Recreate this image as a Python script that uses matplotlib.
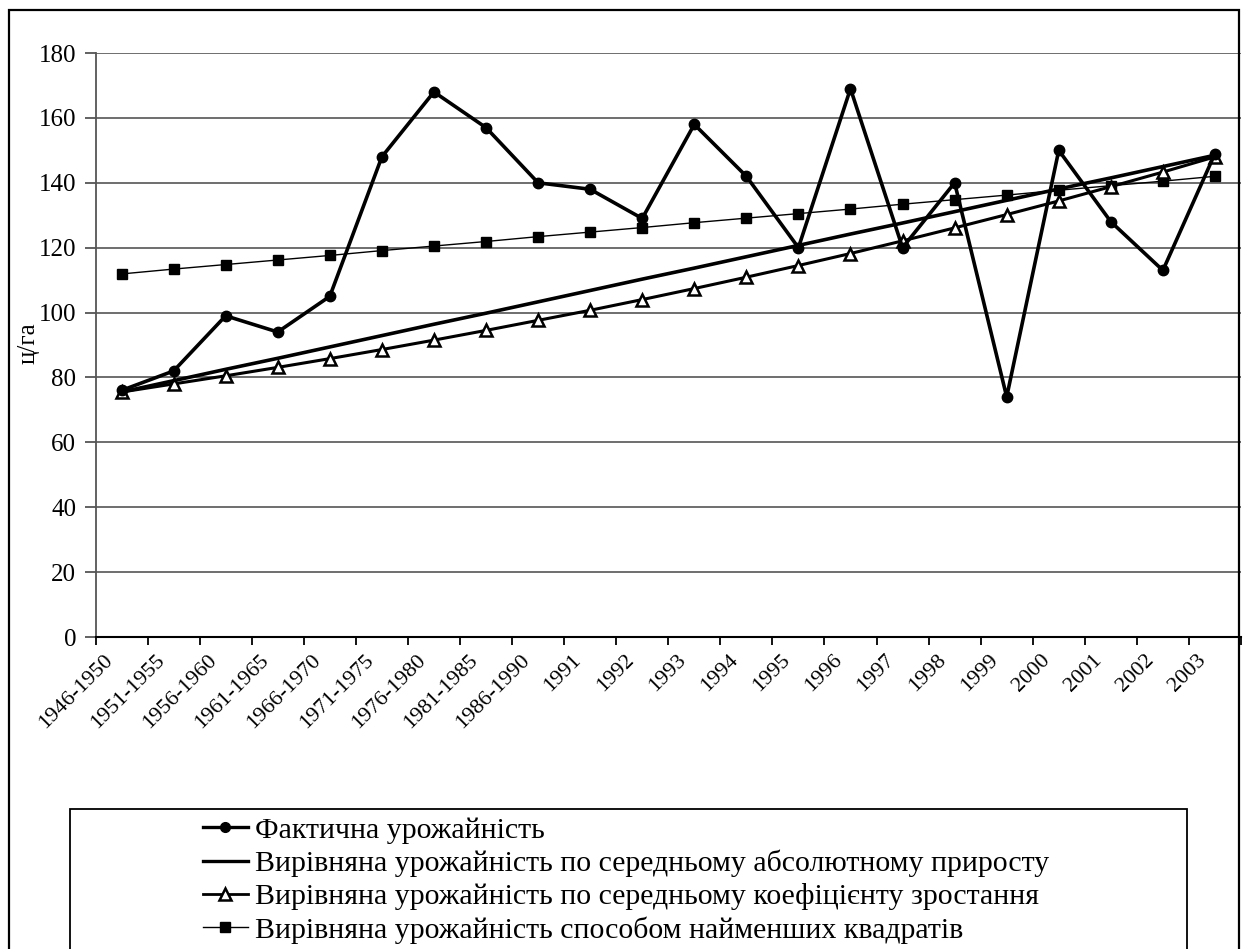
import matplotlib
matplotlib.use("Agg")
import matplotlib.pyplot as plt
from matplotlib.patches import Rectangle
from matplotlib.lines import Line2D
from matplotlib.transforms import ScaledTranslation

categories = ["1946-1950", "1951-1955", "1956-1960", "1961-1965", "1966-1970",
              "1971-1975", "1976-1980", "1981-1985", "1986-1990", "1991", "1992",
              "1993", "1994", "1995", "1996", "1997", "1998", "1999", "2000",
              "2001", "2002", "2003"]

actual = [76, 82, 99, 94, 105, 148, 168, 157, 140, 138, 129, 158, 142, 120,
          169, 120, 140, 74, 150, 128, 113, 149]

abs_growth = [75.5, 79.0, 82.5, 85.9, 89.4, 92.9, 96.4, 99.8, 103.3, 106.8, 110.3,
              113.7, 117.2, 120.7, 124.2, 127.6, 131.1, 134.6, 138.1, 141.5, 145.0, 148.5]

coef_growth = [75.5, 78.0, 80.5, 83.1, 85.8, 88.6, 91.5, 94.5, 97.6, 100.7, 104.0,
               107.4, 110.9, 114.5, 118.2, 122.1, 126.1, 130.2, 134.4, 138.8, 143.3, 148.0]

least_sq = [111.9, 113.4, 114.8, 116.2, 117.6, 119.1, 120.5, 121.9, 123.4, 124.8, 126.2,
            127.7, 129.1, 130.5, 131.9, 133.4, 134.8, 136.2, 137.7, 139.1, 140.5, 142.0]

labels = ["Фактична урожайність",
          "Вирівняна урожайність по середньому абсолютному приросту",
          "Вирівняна урожайність по середньому коефіцієнту зростання",
          "Вирівняна урожайність способом найменших квадратів"]

yticks = [0, 20, 40, 60, 80, 100, 120, 140, 160, 180]

plt.rcParams['font.family'] = ['Liberation Serif', 'DejaVu Serif']

W, H = 1246, 949
fig = plt.figure(figsize=(W / 100, H / 100), dpi=100)

def fx(px):
    return px / W

def fy(py):
    return 1 - py / H

left, right, top, bottom = 95.5, 1241, 53, 637
ax = fig.add_axes([fx(left), fy(bottom), fx(right) - fx(left), fy(top) - fy(bottom)])

x = list(range(len(categories)))

ax.plot(x, least_sq, color='black', lw=1.0, marker='s', ms=7, mfc='black', mec='black', zorder=3)
ax.plot(x, coef_growth, color='black', lw=2.2, marker='^', ms=8, mfc='white', mec='black', mew=1.8, zorder=4)
ax.plot(x, abs_growth, color='black', lw=2.6, zorder=4)
ax.plot(x, actual, color='black', lw=2.6, marker='o', ms=7.5, mfc='black', mec='black', zorder=5)

ax.set_xlim(-0.5, len(categories) - 0.5)
ax.set_ylim(0, 180)
ax.set_yticks(yticks)
ax.set_yticklabels([str(v) for v in yticks], fontsize=18)
ax.yaxis.grid(True, color='#6e6e6e', lw=1.4)
ax.set_axisbelow(True)

ax.set_xticks([i - 0.5 for i in range(len(categories) + 1)])
ax.set_xticklabels([])
ax.set_xticks(x, minor=True)
ax.set_xticklabels(categories, minor=True, rotation=45, ha='right', va='top',
                   rotation_mode='anchor', fontsize=16)
ax.tick_params(axis='x', which='minor', length=0, pad=10)
ax.tick_params(axis='x', which='major', direction='out', length=6, width=1.3, color='black')
ax.tick_params(axis='y', direction='out', length=8, width=1.3, color='#555555', pad=6)
shift = ScaledTranslation(-18 / 100, 0, fig.dpi_scale_trans)
for lbl in ax.get_xticklabels(minor=True):
    lbl.set_transform(lbl.get_transform() + shift)

for s in ['top', 'right']:
    ax.spines[s].set_visible(False)
ax.spines['left'].set_color('#555555')
ax.spines['left'].set_linewidth(1.3)
ax.spines['bottom'].set_color('black')
ax.spines['bottom'].set_linewidth(1.5)

fig.text(fx(29), fy(343), "ц/га", rotation=90, ha='center', va='center', fontsize=18)

# outer chart border
fig.add_artist(Rectangle((fx(9), fy(H + 5)), fx(1239) - fx(9), fy(10) - fy(H + 5),
                         transform=fig.transFigure, fill=False, ec='black', lw=1.6))
# legend border
fig.add_artist(Rectangle((fx(70), fy(H + 5)), fx(1187) - fx(70), fy(809) - fy(H + 5),
                         transform=fig.transFigure, fill=False, ec='black', lw=1.3))

handles = [
    Line2D([], [], color='black', lw=2.4, marker='o', ms=7),
    Line2D([], [], color='black', lw=2.4),
    Line2D([], [], color='black', lw=2.0, marker='^', ms=8, mfc='white', mec='black', mew=1.8),
    Line2D([], [], color='black', lw=1.0, marker='s', ms=7),
]
leg = fig.legend(handles, labels, loc='upper left', bbox_to_anchor=(fx(203), fy(817)),
                 frameon=False, fontsize=21.5, handlelength=1.5, handletextpad=0.25,
                 labelspacing=0.2, borderpad=0.0, borderaxespad=0.0, markerscale=1.0)

fig.savefig("out.png", dpi=100)
